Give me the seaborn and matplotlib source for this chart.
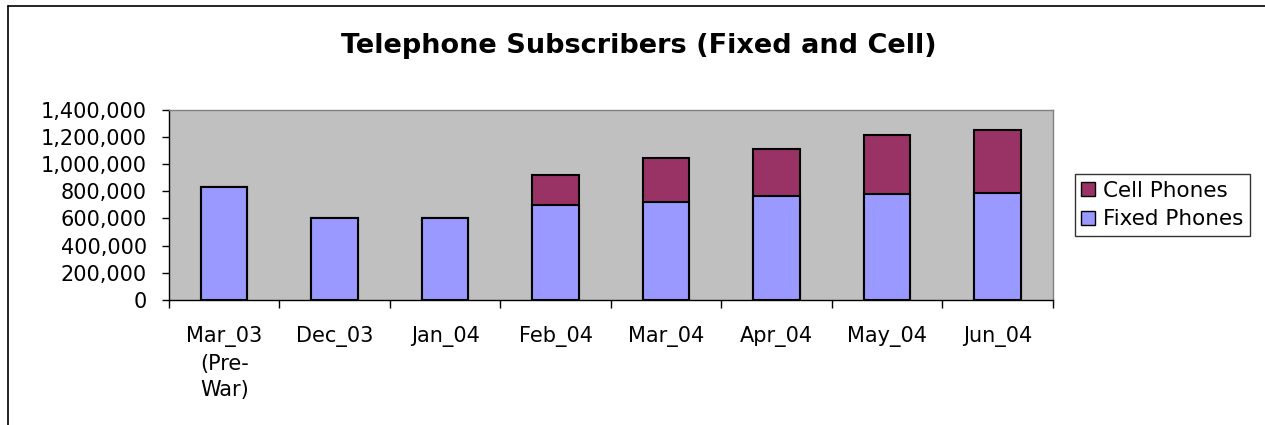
import matplotlib
matplotlib.use("Agg")
import matplotlib.pyplot as plt
import matplotlib.ticker as mtick
from matplotlib.lines import Line2D
from matplotlib.patches import Patch
import numpy as np
import pandas as pd
import seaborn as sns

# data
months = ["Mar_03\n(Pre-\nWar)", "Dec_03", "Jan_04", "Feb_04", "Mar_04", "Apr_04", "May_04", "Jun_04"]
fixed_phones = [831000, 603000, 603000, 697000, 723000, 763000, 778000, 787000]
cell_phones = [0, 0, 0, 225000, 319000, 345000, 434000, 466000]

FIXED_COLOR = "#9999FF"
CELL_COLOR = "#993366"

df = pd.DataFrame({"Month": months, "Fixed": fixed_phones, "Cell": cell_phones})
df["Total"] = df["Fixed"] + df["Cell"]

sns.set_style("white")
plt.rcParams["font.family"] = ["DejaVu Sans"]
plt.rcParams["text.color"] = "black"
plt.rcParams["xtick.color"] = "black"
plt.rcParams["ytick.color"] = "black"

fig = plt.figure(figsize=(12.65, 4.25), dpi=100)
ax = fig.add_axes([169 / 1265, 1 - 300 / 425, (1052.7 - 169) / 1265, (300 - 109.7) / 425])
ax.set_facecolor("#C0C0C0")

# stacked bars: total first (cell colour), fixed drawn over it
sns.barplot(data=df, x="Month", y="Total", color=CELL_COLOR, width=0.42,
            edgecolor="black", linewidth=1.5, saturation=1, ax=ax)
sns.barplot(data=df, x="Month", y="Fixed", color=FIXED_COLOR, width=0.42,
            edgecolor="black", linewidth=1.5, saturation=1, ax=ax)

ax.set_ylim(0, 1400000)
ax.set_xlim(-0.5, len(months) - 0.5)
ax.yaxis.set_major_locator(mtick.MultipleLocator(200000))
ax.yaxis.set_major_formatter(mtick.FuncFormatter(lambda v, p: f"{int(v):,}"))
ax.tick_params(axis="y", which="major", length=5, width=1, color="black",
               labelsize=15, direction="out", left=True, pad=11)
ax.tick_params(axis="x", which="major", length=0, labelsize=15, pad=19)
ax.xaxis.set_minor_locator(mtick.FixedLocator(np.arange(-0.5, len(months), 1.0)))
ax.tick_params(axis="x", which="minor", length=6, width=1, color="black",
               direction="out", bottom=True)
for lbl in ax.get_xticklabels():
    lbl.set_linespacing(1.4)
    lbl.set_verticalalignment("top")

ax.set_xlabel("")
ax.set_ylabel("")
for side in ["top", "right"]:
    ax.spines[side].set_color("#808080")
    ax.spines[side].set_linewidth(1)
for side in ["left", "bottom"]:
    ax.spines[side].set_color("black")
    ax.spines[side].set_linewidth(1)

fig.text(639 / 1265, 1 - 46 / 425, "Telephone Subscribers (Fixed and Cell)",
         ha="center", va="center", fontsize=19.5, fontweight="bold")

handles = [Patch(facecolor=CELL_COLOR, edgecolor="black", label="Cell Phones"),
           Patch(facecolor=FIXED_COLOR, edgecolor="black", label="Fixed Phones")]
leg = fig.legend(handles=handles, loc="center left", bbox_to_anchor=(1075 / 1265, 1 - 205 / 425),
                 fontsize=15.5, frameon=True, fancybox=False, edgecolor="black",
                 handlelength=0.65, handleheight=0.65, handletextpad=0.35,
                 borderpad=0.3, labelspacing=0.4, borderaxespad=0)
leg.get_frame().set_linewidth(1)

# outer chart border (left and top edges visible)
fig.add_artist(Line2D([8 / 1265, 8 / 1265], [0, 1 - 6 / 425], transform=fig.transFigure,
                      color="black", linewidth=1.2))
fig.add_artist(Line2D([8 / 1265, 1], [1 - 6 / 425, 1 - 6 / 425], transform=fig.transFigure,
                      color="black", linewidth=1.2))

fig.savefig("out.png", dpi=100)
plt.close(fig)
